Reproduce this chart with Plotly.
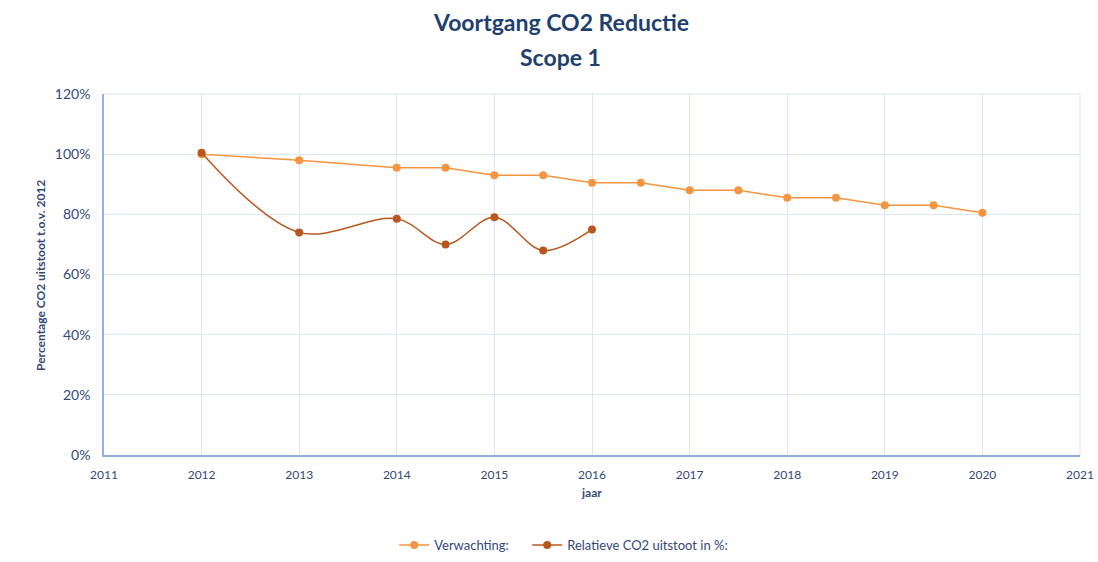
import plotly.graph_objects as go

x_verw = [2012, 2013, 2014, 2014.5, 2015, 2015.5, 2016, 2016.5, 2017, 2017.5, 2018, 2018.5, 2019, 2019.5, 2020]
y_verw = [1.00, 0.98, 0.955, 0.955, 0.93, 0.93, 0.905, 0.905, 0.88, 0.88, 0.855, 0.855, 0.83, 0.83, 0.805]
x_rel = [2012, 2013, 2014, 2014.5, 2015, 2015.5, 2016]
y_rel = [1.005, 0.74, 0.785, 0.70, 0.79, 0.68, 0.75]

x_ticks = list(range(2011, 2022))
y_ticks = [0, 0.2, 0.4, 0.6, 0.8, 1.0, 1.2]

txt = "#34497A"
title_col = "#1F3F6E"
font_fam = "Lato, 'Open Sans', sans-serif"

fig = go.Figure()
fig.add_trace(go.Scatter(x=x_verw, y=y_verw, mode="lines+markers",
                         name="Verwachting:&nbsp;&nbsp;&nbsp;&nbsp;",
                         line=dict(color="#F5953F", width=1.5),
                         marker=dict(color="#F5953F", size=8)))
fig.add_trace(go.Scatter(x=x_rel, y=y_rel, mode="lines+markers", name="Relatieve CO2 uitstoot in %:",
                         line=dict(color="#B9581E", width=1.5, shape="spline", smoothing=1.0),
                         marker=dict(color="#B9581E", size=8)))

fig.update_layout(
    width=1098, height=562,
    margin=dict(l=104, r=18, t=94, b=107, autoexpand=False),
    paper_bgcolor="white", plot_bgcolor="white",
    font=dict(family=font_fam, color=txt, size=11),
    legend=dict(orientation="h", x=0.471, xanchor="center", yref="container", y=0.0302, yanchor="middle",
                font=dict(size=13, color=txt), itemwidth=30),
    showlegend=True,
    annotations=[
        dict(text="<b>Voortgang CO2 Reductie</b>", xref="paper", yref="paper", x=0.468, y=1.199,
             xanchor="center", yanchor="middle", showarrow=False,
             font=dict(size=23, color=title_col, family=font_fam)),
        dict(text="<b>Scope 1</b>", xref="paper", yref="paper", x=0.468, y=1.1025,
             xanchor="center", yanchor="middle", showarrow=False,
             font=dict(size=23, color=title_col, family=font_fam)),
        dict(text="<b>jaar</b>", xref="paper", yref="paper", x=0.499, y=-0.105,
             xanchor="center", yanchor="middle", showarrow=False,
             font=dict(size=12, color=txt, family=font_fam)),
        dict(text="<b>Percentage CO2 uitstoot t.o.v. 2012</b>", xref="paper", yref="paper",
             x=-0.0656, y=0.4986, xanchor="center", yanchor="middle", showarrow=False, textangle=-90,
             font=dict(size=12, color=txt, family=font_fam)),
    ],
)
fig.update_xaxes(range=[2011, 2021], tickvals=x_ticks, ticktext=[str(v) for v in x_ticks],
                 showgrid=True, gridcolor="#DCE6F4", gridwidth=1,
                 showline=True, linecolor="#8FB1E0", linewidth=1.5,
                 ticks="", zeroline=False, automargin=False, ticklabelstandoff=8,
                 ticklabeloverflow="allow",
                 tickfont=dict(size=12, color=txt))
fig.update_yaxes(range=[0, 1.2], tickvals=y_ticks, tickformat=".0%",
                 showgrid=True, gridcolor="#DCE6F4", gridwidth=1,
                 showline=True, linecolor="#8FB1E0", linewidth=1.5,
                 ticks="", zeroline=False, automargin=False, ticklabelstandoff=9,
                 tickfont=dict(size=14, color=txt))
fig.add_shape(type="line", xref="paper", yref="paper", x0=1, x1=1, y0=0, y1=1,
              line=dict(color="#DCE6F4", width=1))
fig.add_shape(type="line", xref="paper", yref="paper", x0=0, x1=1, y0=1, y1=1,
              line=dict(color="#DCE6F4", width=1))

fig.write_html("out.html", config={"displayModeBar": False},
               post_script="document.body.style.margin='0';")
